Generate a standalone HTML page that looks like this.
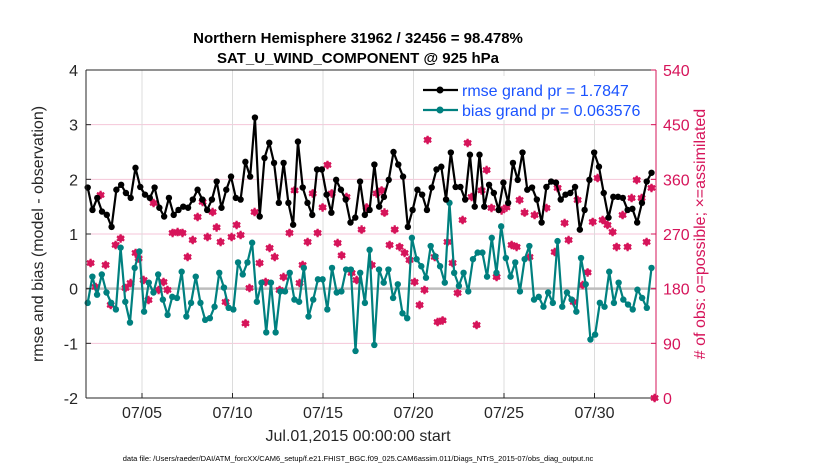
<!DOCTYPE html>
<html><head><meta charset="utf-8"><style>
body{margin:0;background:#fff;}
svg text{font-family:"Liberation Sans",Arial,sans-serif;}
</style></head><body>
<svg id="chart" width="830" height="470" viewBox="0 0 830 470">
<g id="grid"></g><g id="marks"></g><g id="axes"></g>
</svg>
<script>
const rmseValues=[1.85,1.44,1.66,1.41,1.35,1.13,1.81,1.9,1.75,1.66,2.21,1.86,1.72,1.66,1.85,1.48,1.32,1.66,1.35,1.44,1.5,1.48,1.63,1.81,1.63,1.44,1.63,1.96,1.48,1.81,2.05,1.66,1.63,2.32,2.05,3.13,1.32,2.39,2.67,2.3,1.57,
2.30,1.57,1.17,2.69,1.85,1.57,1.35,2.18,2.18,1.72,1.39,1.99,1.81,1.63,1.21,1.30,1.96,1.35,1.44,2.27,1.50,1.68,1.99,2.50,2.27,2.05,1.13,1.44,1.81,1.72,1.44,1.85,2.18,2.23,1.63,2.49,1.86,1.86,1.63,2.45,1.50,
2.45,1.50,1.90,1.75,1.44,1.94,1.57,2.30,1.99,2.49,1.81,1.85,1.63,1.21,1.86,1.96,1.94,1.63,1.72,1.75,1.86,1.08,1.44,1.99,2.49,2.23,1.75,1.30,1.68,1.68,1.66,1.44,1.46,1.21,1.57,1.96,2.12];
const biasValues=[-0.26,0.22,-0.11,0.26,-0.07,-0.26,-0.38,0.75,-0.24,-0.62,0.38,0.68,-0.42,0.11,-0.07,0.26,-0.2,-0.48,-0.15,-0.17,0.31,-0.51,-0.26,0.22,-0.26,-0.57,-0.54,-0.33,0.29,0.02,-0.35,-0.38,0.48,0.26,0.48,0.84,-0.24,0.11,-0.80,
0.11,-0.80,-0.05,-0.05,0.29,-0.2,-0.24,0.38,-0.51,-0.2,0.17,0.17,-0.38,0.38,-0.07,-0.05,0.35,0.35,-1.14,0.29,-0.26,0.71,-1.03,0.35,0.11,0.35,-0.17,0.08,-0.45,-0.54,0.93,0.54,0.41,0.20,0.78,0.59,0.41,0.11,1.57,0.29,0.05,
0.29,-0.05,0.54,0.66,0.66,0.22,0.93,0.29,1.14,0.56,0.22,0.48,-0.05,0.54,0.78,-0.2,-0.15,-0.33,-0.07,-0.26,0.87,-0.33,-0.07,-0.2,-0.42,0.56,0.08,-0.93,-0.84,-0.26,-0.33,0.31,-0.26,0.11,-0.2,-0.29,-0.38,-0.02,-0.17,-0.35,0.38];
const obsDays=[1.71,1.16,1.99,2.54,2.82,2.27,1.44,3.09,3.37,3.65,3.81,4.09,4.36,4.64,4.92,5.19,5.41,5.69,5.97,6.24,6.52,6.80,7.07,7.35,7.62,7.90,8.12,8.34,8.62,8.95,9.23,9.45,9.72,9.94,10.22,10.50,10.83,11.05,11.33,11.60,11.82,
12.15,12.43,12.87,12.71,13.15,13.43,13.70,13.98,14.25,14.48,14.81,15.03,15.30,15.58,15.86,16.13,16.41,16.69,16.96,17.24,17.40,17.68,17.96,18.23,18.51,18.78,19.06,19.34,19.61,19.78,20.17,20.33,20.61,20.88,21.16,21.44,21.71,21.99,22.21,22.49,
22.76,23.04,23.31,23.59,23.87,24.14,24.42,24.70,24.86,25.14,25.41,25.69,25.97,26.35,26.80,26.96,27.35,27.57,27.85,28.07,28.34,28.62,28.90,29.17,29.45,29.72,30.00,30.22,30.55,30.83,31.05,31.33,31.60,31.88,32.15,32.32];
const obsCounts=[334,222,219,252,263,153,183,181,189,239,230,194,161,321,178,191,178,272,273,272,232,260,298,323,265,306,281,257,158,265,285,268,123,181,306,222,191,247,232,178,199,
272,342,219,189,257,337,272,314,384,337,255,235,331,206,194,277,314,219,337,342,305,252,277,249,239,227,191,153,178,425,232,125,128,257,222,173,293,420,331,120,
342,375,313,199,309,314,252,249,326,305,232,301,477,313,240,346,288,260,158,326,186,207,290,362,293,285,273,249,301,249,329,359,329,257,346,0];
const leftTicks=[-2,-1,0,1,2,3,4];
const rightTicks=[0,90,180,270,360,450,540];
const dateTicks=[4,9,14,19,24,29];
const dateLabels=["07/05","07/10","07/15","07/20","07/25","07/30"];
const dayStart=1.0, dayEnd=32.15;

const L=86,R=656,T=70,B=398;
const xs=d=>69.6+d*18.1;
const yL=v=>B-(v+2)*(B-T)/6;
const yR=c=>B-c*(B-T)/540;
const NS="http://www.w3.org/2000/svg";
function mk(tag,attrs,parent,txt){const e=document.createElementNS(NS,tag);for(const k in attrs)e.setAttribute(k,attrs[k]);if(txt!==undefined)e.textContent=txt;parent.appendChild(e);return e;}
const grid=document.getElementById('grid'),marks=document.getElementById('marks'),axes=document.getElementById('axes');
mk('rect',{x:L,y:T,width:R-L,height:B-T,fill:'#fff'},grid);
leftTicks.forEach(v=>{if(v>-2&&v<4&&v!==0){const l=mk('line',{x1:L,x2:R,y1:yL(v),y2:yL(v),stroke:'#f4c6d8','stroke-width':1},grid);

}});
dateTicks.forEach(d=>{const l=mk('line',{x1:xs(d),x2:xs(d),y1:T,y2:B,stroke:'#dcdcdc','stroke-width':1},grid);

});
const z=mk('line',{x1:L,x2:R,y1:yL(0),y2:yL(0),stroke:'#bdbdbd','stroke-width':2.5},grid);



obsDays.forEach((d,i)=>{const g=mk('g',{},marks);


const x=xs(d),y=yR(obsCounts[i]);
mk('circle',{cx:x,cy:y,r:3.3,fill:'#d6145a'},g);
mk('text',{x:x,y:y+4,'text-anchor':'middle','font-size':11,'font-weight':'bold',fill:'#d6145a'},g,'✱');});

function series(vals,color,name){
  const n=vals.length,step=(dayEnd-dayStart)/(n-1);
  const pts=vals.map((v,i)=>[xs(dayStart+i*step),yL(v)]);
  const p=mk('polyline',{points:pts.map(q=>q.join(',')).join(' '),fill:'none',stroke:color,'stroke-width':2.2,'stroke-linejoin':'round'},marks);
  
  
  pts.forEach(q=>{const c=mk('circle',{cx:q[0],cy:q[1],r:3.2,fill:color},marks);
  
  });
}
series(biasValues,'#00807f','bias');
series(rmseValues,'#000000','rmse');

mk('line',{x1:L,x2:L,y1:T,y2:B,stroke:'#262626','stroke-width':1},axes);
mk('line',{x1:L,x2:R,y1:B,y2:B,stroke:'#262626','stroke-width':1},axes);
mk('line',{x1:L,x2:R,y1:T,y2:T,stroke:'#262626','stroke-width':1},axes);
mk('line',{x1:R,x2:R,y1:T,y2:B,stroke:'#d6145a','stroke-width':1},axes);
leftTicks.forEach(v=>{mk('line',{x1:L,x2:L+5,y1:yL(v),y2:yL(v),stroke:'#262626'},axes);
const t=mk('text',{x:L-8,y:yL(v)+6,'text-anchor':'end','font-size':16,fill:'#262626'},axes,String(v));

});
rightTicks.forEach(c=>{mk('line',{x1:R-5,x2:R,y1:yR(c),y2:yR(c),stroke:'#d6145a'},axes);
const t=mk('text',{x:R+7,y:yR(c)+6,'font-size':16,fill:'#d6145a'},axes,String(c));

});
dateTicks.forEach((d,i)=>{mk('line',{x1:xs(d),x2:xs(d),y1:B,y2:B-5,stroke:'#262626'},axes);
const t=mk('text',{x:xs(d),y:B+20,'text-anchor':'middle','font-size':16,fill:'#262626'},axes,dateLabels[i]);

});
</script>
<svg width="830" height="470" style="position:absolute;left:0;top:0">
<text x="358" y="43" text-anchor="middle" font-size="15" font-weight="bold" fill="#000">Northern Hemisphere 31962 / 32456 = 98.478%</text>
<text x="358" y="63" text-anchor="middle" font-size="15" font-weight="bold" fill="#000">SAT_U_WIND_COMPONENT @ 925 hPa</text>
<g>
<rect x="416" y="76" width="232" height="44" fill="#fff"/>
<line x1="423" x2="458" y1="90" y2="90" stroke="#000" stroke-width="2.2"/><circle cx="440" cy="90" r="3.5" fill="#000"/>
<text x="462" y="96" font-size="16" fill="#1a53ff">rmse grand pr = 1.7847</text>
<line x1="423" x2="458" y1="110" y2="110" stroke="#00807f" stroke-width="2.2"/><circle cx="440" cy="110" r="3.5" fill="#00807f"/>
<text x="462" y="116" font-size="16" fill="#1a53ff">bias grand pr = 0.063576</text>
</g>
<text transform="translate(43,234) rotate(-90)" text-anchor="middle" font-size="16" fill="#262626">rmse and bias (model - observation)</text>
<text transform="translate(705,234) rotate(-90)" text-anchor="middle" font-size="16" fill="#d6145a"># of obs: o=possible; ×=assimilated</text>
<text x="358" y="441" text-anchor="middle" font-size="16" fill="#262626">Jul.01,2015 00:00:00 start</text>
<text x="358" y="461" text-anchor="middle" font-size="7.5" fill="#000">data file: /Users/raeder/DAI/ATM_forcXX/CAM6_setup/f.e21.FHIST_BGC.f09_025.CAM6assim.011/Diags_NTrS_2015-07/obs_diag_output.nc</text>
</svg>
</body></html>
